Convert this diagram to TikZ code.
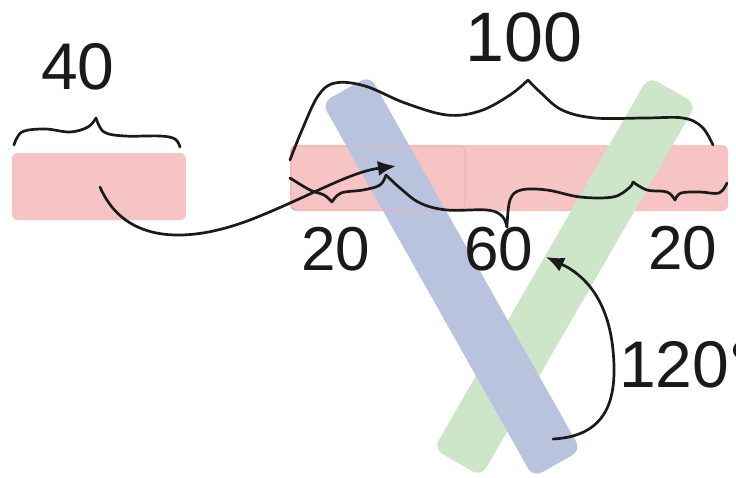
\documentclass[tikz,border=0pt]{standalone}
\usepackage{fontspec}
\setmainfont{Liberation Sans}
\usetikzlibrary{arrows.meta}
\definecolor{pinkc}{HTML}{F6C4C5}
\definecolor{pinkline}{HTML}{EFA9AB}
\definecolor{bluec}{HTML}{B9C3DE}
\definecolor{greenc}{HTML}{CDE6C8}
\definecolor{ink}{HTML}{1A1A1A}
\tikzset{
  blockbox/.style={fill=pinkc, draw=none, rounded corners=6pt},
  barbox/.style={draw=none, rounded corners=10pt, minimum width=430pt, minimum height=55pt, inner sep=0pt},
  pen/.style={draw=ink, line width=2.7pt, line cap=round, line join=round},
  arr/.style={pen, -{Latex[length=18pt,width=15pt]}},
  num/.style={font=\fontsize{62}{64}\selectfont, text=ink, inner sep=0pt},
}
\begin{document}
\begin{tikzpicture}[x=1pt,y=-1pt]
\useasboundingbox (0,0) rectangle (736,477);
% pink blocks
\path[blockbox] (12,153) rectangle (186,220);
\node[inner sep=0pt, minimum width=174pt, minimum height=67pt] (small) at (99,186.5) {};
\path[blockbox] (290,145) rectangle (728,211);
\node[inner sep=0pt, minimum width=438pt, minimum height=66pt] (long) at (509,178) {};
% bars
\node[barbox, fill=greenc, rotate=60] (green) at (565,276.5) {};
\node[barbox, fill=bluec, rotate=-60.6] (blue) at (451.5,276.5) {};
\draw[pinkline, line width=0.8pt, rounded corners=5pt] (291,146) rectangle (465,210);
% labels
\node[num, font=\fontsize{66}{68}\selectfont] (t40) at (78,67) {40};
\node[num, font=\fontsize{70}{72}\selectfont] (t100) at (524,37) {100};
\node[num] (t20a) at (336,249) {20};
\node[num] (t60) at (499,249) {60};
\node[num] (t20b) at (683,248) {20};
\node[num, anchor=west, font=\fontsize{66}{68}\selectfont] (t120) at (619,365) {120°};
% left brace
\draw[pen] plot[smooth, tension=0.6] coordinates {(14,145) (22,132) (45,129) (70,132) (88,127) (96,118)};
\draw[pen] plot[smooth, tension=0.6] coordinates {(96,118) (104,132) (125,136) (160,136) (175,139) (180,147)};
% big upper brace
\draw[pen] plot[smooth, tension=0.6] coordinates {(290,160) (302,130) (318,96) (335,83) (365,86) (405,103) (447,115) (480,111) (510,95) (528,80)};
\draw[pen] plot[smooth, tension=0.6] coordinates {(528,80) (540,92) (562,110) (595,118) (645,118) (683,118) (702,127) (713,145)};
% lower braces
\draw[pen] plot[smooth, tension=0.6] coordinates {(290,178) (310,190) (324,195) (332,202)};
\draw[pen] plot[smooth, tension=0.6] coordinates {(332,202) (341,193) (363,190) (380,185) (386,175)};
\draw[pen] plot[smooth, tension=0.6] coordinates {(386,175) (400,188) (420,203) (447,210) (487,210) (502,216) (507,227)};
\draw[pen] plot[smooth, tension=0.6] coordinates {(507,227) (510,200) (521,190) (547,190) (580,197) (613,197) (629,188) (633,182)};
\draw[pen] plot[smooth, tension=0.6] coordinates {(633,182) (647,190) (667,192) (675,200)};
\draw[pen] plot[smooth, tension=0.6] coordinates {(675,200) (681,193) (700,192) (719,193) (727,183)};
% arrows
\coordinate (a1s) at (100,187);
\coordinate (a1e) at (396,166);
\coordinate (a2s) at (553,439);
\coordinate (a2e) at (546,257);
\draw[arr] (a1s) .. controls (125,245) and (190,244) .. (255,218) .. controls (310,196) and (350,172) .. (a1e);
\draw[arr] (a2s) .. controls (612,436) and (617,392) .. (613,350) .. controls (608,300) and (585,275) .. (a2e);
\end{tikzpicture}
\end{document}
